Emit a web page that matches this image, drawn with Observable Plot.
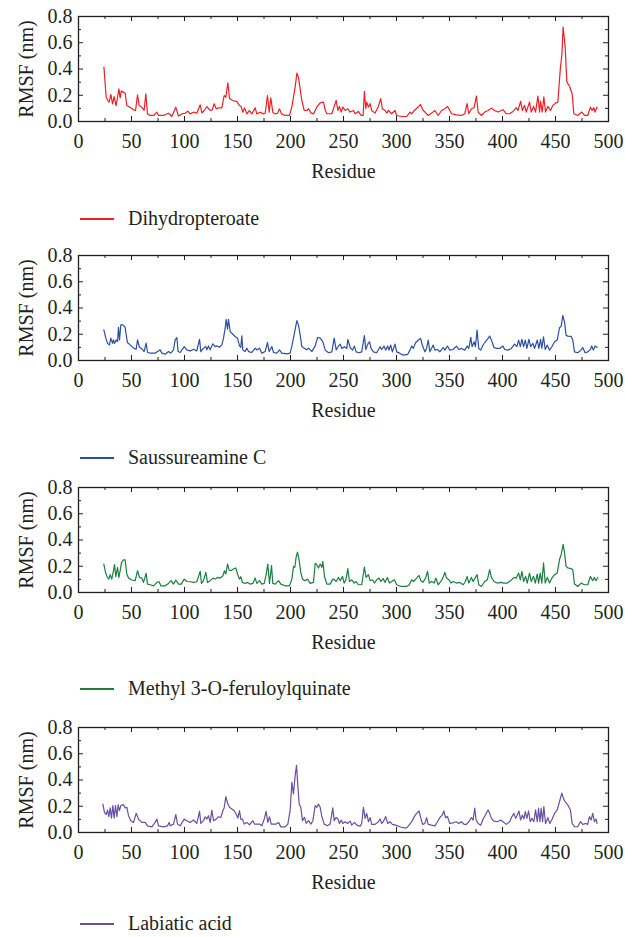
<!DOCTYPE html>
<html>
<head>
<meta charset="utf-8">
<script src="https://cdn.jsdelivr.net/npm/d3@7"></script>
<script src="https://cdn.jsdelivr.net/npm/@observablehq/plot@0.6"></script>
<style>
  html, body { margin: 0; padding: 0; background: #fff; }
  #root { position: relative; width: 625px; height: 937px; font-family: "Liberation Serif", serif; }
  .panel { position: absolute; left: 0; }
  .legend { position: absolute; left: 80px; height: 22px; display: flex; align-items: center; font-size: 20px; line-height: 22px; color: #231f20; }
  .legend .swatch { width: 34px; height: 1.3px; margin-right: 14px; }
  .legend .label { position: relative; top: -1px; }
</style>
</head>
<body>
<div id="root"></div>
<script>
// ---- axis ticks ----
const xTicks = [0, 50, 100, 150, 200, 250, 300, 350, 400, 450, 500];
const xMinorTicks = [25, 75, 125, 175, 225, 275, 325, 375, 425, 475];
const yTicks = [0, 0.2, 0.4, 0.6, 0.8];
const yMinorTicks = [0.1, 0.3, 0.5, 0.7];
const xLabel = "Residue";
const yLabel = "RMSF (nm)";

// ---- series names and colours ----
const seriesNames = ["Dihydropteroate", "Saussureamine C", "Methyl 3-O-feruloylquinate", "Labiatic acid"];
const seriesColors = ["#ee1f26", "#2c4fa3", "#1b7f3d", "#6a4ea3"];

// ---- RMSF (nm) per residue: [residue, rmsf] ----
const dihydropteroate = [
[24,.414],[26.1,.185],[27.7,.16],[28.9,.147],[30.5,.206],[32.1,.135],[33.6,.19],[35.5,.12],[37.1,.198],[38.1,.249],
[39.3,.18],[40.3,.231],[42.5,.224],[44,.216],[45.6,.122],[48.7,.109],[51.9,.089],[53.8,.084],[55.7,.203],[57.2,.122],
[59.7,.109],[61.9,.084],[63.5,.211],[65.1,.058],[67.6,.046],[70.8,.046],[73.9,.071],[75.5,.046],[80.2,.046],[84.9,.063],
[88,.038],[91.8,.109],[94.3,.041],[97.5,.058],[100.6,.063],[103.1,.079],[105.3,.058],[108.5,.071],[111.6,.063],[114.8,.127],
[116.4,.066],[118.6,.084],[121.1,.114],[124.2,.084],[126.1,.089],[128,.135],[129.9,.097],[132.1,.104],[135.2,.104],[137.4,.198],
[139,.185],[140.9,.295],[142.5,.173],[145.6,.16],[149.4,.152],[151.9,.122],[153.5,.114],[155,.071],[156.6,.104],[158.8,.058],
[161.3,.084],[163.5,.058],[166.7,.104],[168.2,.058],[171.4,.071],[174.5,.058],[176.1,.063],[178.3,.198],[179.9,.071],[181.4,.18],
[183.3,.071],[185.5,.058],[187.7,.063],[189.6,.097],[191.5,.058],[195,.046],[199.1,.046],[201.3,.114],[202.8,.185],[204.4,.262],
[206,.368],[207.5,.338],[209.1,.249],[210.7,.16],[212.9,.084],[215.4,.084],[217,.097],[219.2,.066],[221.7,.058],[224.8,.109],
[228,.142],[231.1,.147],[232.8,.085],[234.3,.059],[239,.059],[243.1,.161],[244.7,.084],[246.2,.115],[247.8,.072],[249.4,.11],
[251.6,.084],[254.1,.097],[256.3,.072],[259.4,.084],[261,.059],[264.1,.077],[266.6,.046],[268.5,.046],[269.7,.23],[271,.097],
[271.9,.148],[273.5,.11],[275.1,.136],[276.6,.084],[279.8,.064],[282.9,.115],[285.1,.174],[286.7,.097],[289.2,.084],[290.8,.064],
[292.3,.084],[295.5,.059],[298.6,.084],[300.2,.046],[304.9,.038],[309.6,.038],[312.7,.072],[314.3,.059],[316.8,.084],[320.5,.11],
[322.7,.13],[325.2,.084],[326.8,.072],[329.9,.046],[333.1,.064],[336.2,.084],[339.3,.046],[342.5,.084],[345.6,.097],[348.1,.115],
[350.3,.084],[351.9,.059],[356.6,.051],[361.3,.046],[364.4,.059],[366.6,.136],[368.2,.059],[370.7,.097],[373.2,.105],[375.4,.194],
[377,.072],[380.1,.046],[383.2,.072],[386.4,.084],[389.5,.102],[392.6,.084],[395.8,.072],[400.5,.09],[403.6,.059],[406.7,.059],
[409.9,.077],[413,.105],[414.6,.084],[417.1,.153],[418.7,.084],[420.8,.123],[422.4,.072],[425.5,.148],[427.1,.072],[429.3,.115],
[431.2,.072],[433.4,.194],[435,.072],[435.9,.156],[437.5,.072],[439,.187],[440.6,.072],[442.8,.115],[445.3,.084],[447.5,.123],
[450.6,.143],[452.2,.148],[454.7,.417],[456,.506],[457.2,.719],[459.1,.57],[460.7,.302],[463.2,.269],[465.7,.212],[467.3,.059],
[471,.046],[474.8,.072],[477.3,.046],[480.4,.046],[482.9,.11],[484.5,.084],[486.1,.105],[487.3,.072],[489.2,.11]
];

const saussureamineC = [
[23.9,.233],[25.8,.17],[27.4,.13],[29.2,.119],[30.5,.17],[32.1,.13],[33,.157],[34,.13],[35.5,.157],[36.8,.144],
[37.7,.253],[38.7,.157],[39.9,.271],[41.8,.271],[44,.253],[45,.195],[46.2,.137],[48.7,.119],[51.9,.094],[54.4,.086],
[55.7,.157],[57.5,.101],[59.7,.089],[61.9,.068],[63.8,.132],[65.1,.061],[67.6,.056],[72.3,.056],[77,.081],[78.6,.056],
[81.8,.048],[84.9,.068],[87.1,.056],[89.6,.081],[91.2,.157],[92.8,.175],[94,.068],[95.9,.061],[99.7,.106],[102.2,.081],
[105.3,.073],[108.5,.086],[111.6,.073],[114.2,.162],[115.4,.068],[117.9,.094],[120.1,.106],[121.1,.081],[122.6,.111],[124.2,.081],
[126.7,.127],[128.9,.106],[130.5,.111],[133,.101],[135.2,.119],[136.8,.17],[138.4,.246],[139.3,.314],[140.6,.238],[141.5,.314],
[143.1,.22],[145.6,.2],[147.8,.182],[150,.17],[151.9,.111],[153.1,.101],[154.1,.187],[155,.081],[157.2,.068],[158.8,.094],
[160.4,.068],[163.5,.061],[166.7,.094],[168.2,.081],[170.8,.094],[173,.056],[176.1,.068],[178.3,.137],[179.9,.068],[182.4,.106],
[184,.061],[187.1,.056],[189.6,.081],[191.8,.056],[196.5,.051],[199.7,.056],[201.3,.111],[202.8,.17],[204.4,.238],[206,.304],
[207.5,.271],[209.1,.195],[210.7,.106],[212.9,.094],[215.4,.081],[217,.094],[220.1,.068],[223.3,.111],[225.5,.175],[228,.17],
[230.5,.144],[232.8,.079],[235.9,.059],[239,.066],[241.2,.17],[243.1,.081],[245.3,.111],[246.9,.125],[248.4,.092],[250.9,.105],
[253.1,.092],[254.1,.161],[256.3,.099],[258.5,.079],[260.3,.11],[261.9,.066],[264.7,.059],[267.2,.066],[269.7,.189],[271,.084],
[272.9,.125],[274.5,.143],[276,.092],[278.2,.066],[281.3,.059],[284.5,.105],[286,.084],[288.2,.11],[289.8,.079],[291.7,.11],
[292.9,.079],[294.5,.118],[296.1,.066],[298.6,.125],[300.2,.066],[303.3,.054],[306.4,.041],[310.5,.046],[312.7,.079],[314.3,.11],
[315.8,.092],[318,.135],[320.5,.156],[322.7,.168],[324.3,.118],[326.8,.066],[328.4,.092],[329.9,.156],[331.5,.066],[334.6,.118],
[336.2,.079],[338.7,.084],[340.9,.066],[344,.099],[345.6,.079],[348.1,.11],[350.3,.079],[353.4,.084],[356.6,.11],[358.8,.084],
[361.3,.092],[364.4,.079],[366.6,.11],[368.2,.092],[370.1,.176],[371.3,.105],[373.2,.143],[374.5,.105],[376,.232],[377.6,.092],
[379.5,.079],[381.7,.118],[383.9,.143],[386.4,.168],[387.9,.186],[389.5,.156],[392,.099],[394.2,.092],[397.3,.092],[400.5,.11],
[402,.084],[405.2,.079],[408.3,.092],[411.4,.125],[413.6,.105],[415.2,.156],[416.8,.105],[418.3,.161],[419.9,.105],[421.5,.156],
[423,.092],[424.9,.161],[426.5,.105],[428.7,.13],[430.3,.092],[432.8,.156],[434.3,.092],[435.9,.161],[437.1,.092],[438.7,.181],
[440.3,.084],[442.2,.118],[444.4,.079],[446.6,.105],[449.1,.143],[451.6,.156],[453.8,.25],[455.3,.26],[456.9,.344],[458.5,.293],
[460,.191],[461.6,.186],[464.7,.184],[466.3,.156],[467.9,.066],[471,.059],[474.1,.079],[475.7,.099],[477.9,.059],[480.4,.066],
[482.9,.084],[484.2,.11],[485.7,.079],[487.3,.11],[489.2,.099]
];

const methylFeruloylquinate = [
[23.9,.217],[25.5,.153],[27,.12],[28.6,.102],[29.9,.136],[31.4,.102],[33,.166],[34,.212],[35.2,.12],[36.8,.192],
[38.1,.115],[39.3,.166],[40.6,.23],[42.5,.248],[44,.248],[45.6,.141],[47.2,.11],[50.3,.095],[53.5,.09],[55.7,.166],
[57.5,.115],[59.7,.11],[61.3,.077],[63.8,.146],[65.1,.064],[67.6,.059],[70.8,.051],[73.9,.077],[76.1,.082],[77.7,.051],
[81.8,.051],[84.9,.069],[87.4,.09],[89.6,.064],[91.8,.095],[94.3,.064],[96.9,.064],[99.7,.102],[102.2,.084],[105.3,.082],
[108.5,.077],[111.6,.082],[114.8,.161],[116,.069],[117.9,.09],[120.1,.153],[121.7,.077],[124.2,.09],[126.7,.11],[128.9,.102],
[131.1,.115],[133.6,.11],[136.2,.128],[137.7,.166],[139,.141],[140.6,.217],[142.1,.171],[143.7,.166],[146.2,.179],[148.4,.187],
[150,.141],[151.9,.102],[153.1,.12],[154.7,.077],[157.2,.069],[159.4,.077],[161.9,.064],[164.5,.069],[166.7,.11],[168.2,.069],
[170.8,.09],[173,.064],[175.2,.069],[177,.136],[178.6,.217],[180.2,.069],[182.1,.205],[183.3,.069],[185.5,.064],[188.7,.09],
[190.9,.064],[195,.051],[199.1,.051],[201.3,.102],[202.8,.197],[204.1,.192],[205.3,.269],[206.6,.307],[208.2,.243],[209.7,.153],
[211.3,.102],[213.8,.09],[216,.102],[218.6,.069],[221.7,.077],[223.3,.223],[224.8,.212],[226.4,.187],[228,.217],[229.6,.192],
[230.5,.235],[232.1,.12],[234.3,.064],[237.4,.064],[239.9,.102],[241.5,.097],[243.1,.084],[245.3,.115],[246.9,.09],[249.1,.123],
[250.6,.072],[252.2,.097],[254.1,.182],[255.6,.084],[257.8,.097],[260,.072],[261.9,.084],[264.1,.059],[267.2,.059],[269.7,.194],
[271.3,.115],[273.5,.136],[275.1,.09],[277.3,.097],[279.2,.072],[281.3,.097],[283.5,.11],[285.1,.084],[287.6,.105],[289.2,.077],
[291.4,.115],[293.3,.072],[295.5,.084],[298,.097],[300.2,.059],[304.2,.046],[309.6,.046],[312.1,.059],[314.3,.097],[316.1,.084],
[319,.11],[321.2,.13],[323,.09],[325.2,.079],[327.4,.11],[329.3,.161],[330.9,.072],[333.1,.084],[335.6,.072],[337.1,.11],
[339.3,.059],[341.8,.084],[344,.115],[345.6,.153],[347.2,.11],[349.4,.097],[351.3,.072],[353.4,.084],[356.6,.072],[359.7,.077],
[362.9,.059],[365,.084],[366.6,.123],[368.2,.072],[370.7,.115],[372.3,.084],[373.8,.105],[376,.136],[377.6,.059],[380.1,.046],
[383.2,.084],[385.7,.097],[387.9,.174],[389.5,.115],[392,.084],[395.1,.072],[398.3,.077],[401.4,.072],[404.5,.072],[407.7,.09],
[410.8,.115],[413,.11],[415.2,.148],[416.8,.097],[418.3,.161],[419.9,.084],[421.8,.123],[423.3,.072],[425.5,.148],[427.1,.084],
[429.3,.123],[430.9,.072],[432.8,.141],[434,.072],[435.6,.148],[437.1,.072],[438.7,.225],[440.3,.072],[442.2,.115],[444.4,.072],
[446.6,.11],[449.1,.136],[451.6,.148],[453.8,.251],[455.3,.289],[457.2,.366],[458.5,.302],[460,.199],[461.6,.187],[464.7,.182],
[466.3,.174],[467.9,.064],[471,.046],[474.1,.072],[477.3,.059],[480.4,.059],[482.9,.123],[485.1,.09],[486.7,.115],[488.2,.09],
[489.8,.115]
];

const labiaticAcid = [
[23,.217],[24.5,.153],[26.1,.136],[27.4,.171],[28.6,.12],[29.9,.187],[31.1,.11],[32.4,.205],[33.6,.11],[34.9,.205],
[36.2,.12],[37.4,.21],[38.7,.166],[39.9,.205],[42.5,.212],[44,.187],[45.6,.192],[47.2,.128],[49.4,.09],[51.9,.077],
[54.4,.146],[56.6,.102],[59.7,.077],[62.9,.077],[65.1,.051],[69.2,.043],[72.3,.077],[73.9,.102],[75.5,.051],[80.2,.043],
[84,.051],[85.5,.077],[86.5,.051],[89.6,.064],[91.8,.136],[93.4,.064],[95.9,.051],[99.7,.102],[102.2,.09],[105.3,.077],
[108.5,.095],[111.6,.069],[114.2,.161],[115.4,.069],[117.9,.09],[119.5,.12],[121.1,.102],[122.6,.128],[124.2,.077],[125.8,.171],
[127.4,.09],[129.9,.102],[132.1,.12],[134.3,.115],[136.2,.166],[137.4,.187],[139,.274],[140.6,.223],[142.5,.192],[144.7,.179],
[146.9,.166],[148.7,.141],[150.3,.11],[151.9,.166],[153.1,.102],[154.7,.102],[156.3,.064],[158.8,.077],[161.3,.059],[164.5,.09],
[166,.064],[168.2,.064],[170.8,.064],[173,.051],[175.2,.102],[177,.161],[178.6,.077],[180.2,.12],[181.8,.064],[184,.064],
[186.5,.064],[188.7,.077],[190.9,.043],[195,.043],[197.5,.064],[199.7,.171],[201.3,.384],[202.8,.294],[204.4,.435],[205.7,.512],
[206.9,.358],[208.2,.217],[209.7,.192],[211.3,.09],[213.2,.115],[214.8,.069],[217,.09],[219.2,.064],[221.1,.09],[223.3,.205],
[224.8,.192],[226.4,.217],[228,.192],[229.6,.12],[231.8,.064],[234.9,.051],[237.4,.064],[239.9,.187],[241.2,.09],[243.1,.115],
[244.7,.103],[246.2,.069],[247.8,.095],[249.4,.069],[251.6,.082],[253.8,.069],[256.3,.087],[257.8,.056],[260.3,.077],[262.5,.056],
[265.7,.049],[267.2,.069],[268.8,.192],[270.4,.108],[271.9,.146],[273.5,.082],[275.1,.113],[276.6,.062],[279.8,.062],[282.9,.082],
[284.5,.103],[286,.069],[287.6,.082],[289.8,.121],[291.7,.069],[293.9,.082],[296.1,.062],[299.2,.056],[303.3,.044],[306.4,.036],
[309.6,.036],[311.8,.056],[314.3,.082],[316.8,.121],[319,.146],[321.2,.164],[323,.108],[324.6,.062],[326.8,.069],[328.4,.113],
[329.9,.062],[333.1,.056],[336.2,.051],[338.7,.082],[340.9,.113],[343.1,.133],[344.7,.164],[346.2,.113],[348.1,.121],[350.3,.069],
[353.4,.074],[356.6,.082],[358.8,.069],[361.3,.082],[363.8,.062],[366,.062],[368.2,.082],[370.7,.113],[372.3,.095],[373.8,.185],
[375.1,.095],[377,.069],[379.5,.056],[381.7,.103],[383.9,.133],[386.4,.172],[387.9,.146],[389.5,.108],[392,.087],[395.1,.082],
[398.3,.095],[400.5,.082],[403.6,.062],[406.7,.082],[408.9,.121],[410.8,.146],[412.4,.108],[414,.133],[415.5,.164],[417.1,.095],
[418.7,.133],[420.2,.103],[421.5,.159],[423,.108],[424.6,.164],[426.2,.082],[427.7,.108],[429.6,.082],[431.2,.172],[432.8,.082],
[434,.185],[435.3,.082],[436.5,.185],[437.8,.082],[439,.197],[440.6,.069],[442.8,.113],[444.7,.069],[446.9,.103],[449.1,.146],
[451.6,.172],[453.8,.236],[456,.3],[457.6,.256],[459.4,.231],[461.6,.21],[464.1,.172],[465.7,.069],[467.9,.044],[471,.044],
[473.5,.082],[475.7,.062],[478.8,.069],[480.4,.062],[482,.121],[483.6,.095],[485.1,.146],[486.7,.082],[488.2,.103],[489.2,.069]
];

const seriesData = [dihydropteroate, saussureamineC, methylFeruloylquinate, labiaticAcid];

// ---- layout (page pixels) ----
const frameTops = [16, 255, 487, 727];
const legendLineY = [219, 458, 689, 924];
const frameH = 105;
const mTop = 10, mBottom = 62, mLeft = 78, mRight = 17;
const W = 625;
const innerW = W - mLeft - mRight;
const ink = "#231f20";

const root = document.getElementById("root");

seriesData.forEach((series, i) => {
  const rows = series.map(([residue, rmsf]) => ({residue, rmsf}));
  const chart = Plot.plot({
    width: W,
    height: mTop + frameH + mBottom,
    marginTop: mTop, marginBottom: mBottom, marginLeft: mLeft, marginRight: mRight,
    style: {fontFamily: "'Liberation Serif', serif", fontSize: "20px", color: ink, background: "transparent", overflow: "visible"},
    x: {domain: [0, 500]},
    y: {domain: [0, 0.8]},
    marks: [
      Plot.axisX({ticks: xTicks, tickSize: 0, tickPadding: 12, tickFormat: d3.format("d"), label: null, fill: ink}),
      Plot.axisY({ticks: yTicks, tickSize: 0, tickPadding: 6, tickFormat: d3.format(".1f"), label: null, fill: ink}),
      Plot.text([xLabel], {text: d => d, frameAnchor: "bottom", textAnchor: "middle", lineAnchor: "middle", dy: 50, fill: ink, fontSize: 20}),
      Plot.text([yLabel], {text: d => d, frameAnchor: "left", textAnchor: "middle", lineAnchor: "middle", rotate: -90, dx: -52, fill: ink, fontSize: 20}),
      // inward ticks: bottom / top
      Plot.tickX(xTicks, {x: d => d, insetTop: frameH - 5, stroke: ink, strokeWidth: 1}),
      Plot.tickX(xMinorTicks, {x: d => d, insetTop: frameH - 3, stroke: ink, strokeWidth: 1}),
      Plot.tickX(xTicks, {x: d => d, insetBottom: frameH - 5, stroke: ink, strokeWidth: 1}),
      Plot.tickX(xMinorTicks, {x: d => d, insetBottom: frameH - 3, stroke: ink, strokeWidth: 1}),
      // inward ticks: left / right
      Plot.tickY(yTicks, {y: d => d, insetRight: innerW - 5, stroke: ink, strokeWidth: 1}),
      Plot.tickY(yMinorTicks, {y: d => d, insetRight: innerW - 3, stroke: ink, strokeWidth: 1}),
      Plot.tickY(yTicks, {y: d => d, insetLeft: innerW - 5, stroke: ink, strokeWidth: 1}),
      Plot.tickY(yMinorTicks, {y: d => d, insetLeft: innerW - 3, stroke: ink, strokeWidth: 1}),
      Plot.line(rows, {x: "residue", y: "rmsf", stroke: seriesColors[i], strokeWidth: 1.2}),
      Plot.frame({stroke: ink, strokeWidth: 1.3})
    ]
  });
  const holder = document.createElement("div");
  holder.className = "panel";
  holder.style.top = (frameTops[i] - mTop) + "px";
  holder.appendChild(chart);
  root.appendChild(holder);

  const legend = document.createElement("div");
  legend.className = "legend";
  legend.style.top = (legendLineY[i] - 11) + "px";
  const sw = document.createElement("span");
  sw.className = "swatch";
  sw.style.background = seriesColors[i];
  const lb = document.createElement("span");
  lb.className = "label";
  lb.textContent = seriesNames[i];
  legend.appendChild(sw);
  legend.appendChild(lb);
  root.appendChild(legend);
});
</script>
</body>
</html>
